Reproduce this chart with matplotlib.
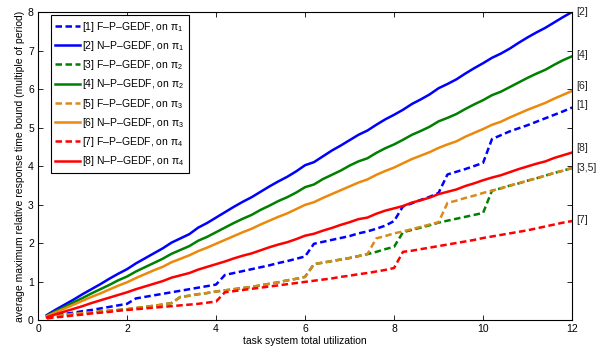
import matplotlib
matplotlib.use('Agg')
import matplotlib.pyplot as plt
import numpy as np

plt.rcParams['font.family'] = ['Liberation Sans', 'DejaVu Sans']
plt.rcParams['mathtext.fontset'] = 'custom'
plt.rcParams['mathtext.rm'] = 'Liberation Sans'
plt.rcParams['mathtext.it'] = 'Liberation Sans:italic'

# total utilization, 0.2 .. 12 step 0.2
util = np.round(np.arange(1, 61) * 0.2, 1)

# [1] F-P-GEDF on pi_1
fp1 = [0.10, 0.13, 0.16, 0.19, 0.23, 0.26, 0.30, 0.34, 0.38, 0.42,
       0.56, 0.60, 0.64, 0.68, 0.72, 0.76, 0.80, 0.84, 0.88, 0.92,
       1.17, 1.22, 1.27, 1.32, 1.37, 1.42, 1.48, 1.53, 1.59, 1.65,
       1.98, 2.03, 2.08, 2.13, 2.18, 2.25, 2.30, 2.37, 2.45, 2.57,
       2.95, 3.03, 3.12, 3.20, 3.30, 3.78, 3.85, 3.92, 4.00, 4.08,
       4.70, 4.80, 4.90, 4.98, 5.06, 5.15, 5.24, 5.33, 5.42, 5.52]
# [2] N-P-GEDF on pi_1
np1 = [0.13, 0.27, 0.40, 0.53, 0.67, 0.80, 0.93, 1.07, 1.20, 1.32,
       1.47, 1.60, 1.73, 1.86, 2.01, 2.12, 2.23, 2.40, 2.52, 2.66,
       2.80, 2.94, 3.07, 3.19, 3.33, 3.47, 3.60, 3.72, 3.86, 4.02,
       4.10, 4.25, 4.40, 4.53, 4.67, 4.81, 4.92, 5.07, 5.21, 5.33,
       5.46, 5.61, 5.73, 5.86, 6.02, 6.13, 6.25, 6.40, 6.54, 6.67,
       6.81, 6.92, 7.05, 7.20, 7.34, 7.47, 7.59, 7.73, 7.87, 8.00]
# [3] F-P-GEDF on pi_2
fp2 = [0.07, 0.10, 0.13, 0.16, 0.18, 0.20, 0.22, 0.24, 0.26, 0.28,
       0.31, 0.34, 0.37, 0.40, 0.44, 0.60, 0.63, 0.67, 0.70, 0.74,
       0.77, 0.80, 0.83, 0.86, 0.90, 0.94, 0.98, 1.03, 1.07, 1.12,
       1.45, 1.49, 1.53, 1.57, 1.61, 1.66, 1.71, 1.77, 1.84, 1.90,
       2.28, 2.34, 2.40, 2.46, 2.53, 2.58, 2.63, 2.68, 2.73, 2.78,
       3.36, 3.42, 3.49, 3.55, 3.62, 3.68, 3.75, 3.82, 3.88, 3.95]
# [4] N-P-GEDF on pi_2
np2 = [0.11, 0.23, 0.34, 0.46, 0.57, 0.69, 0.80, 0.91, 1.03, 1.13,
       1.26, 1.37, 1.48, 1.59, 1.72, 1.82, 1.92, 2.06, 2.16, 2.28,
       2.40, 2.52, 2.63, 2.73, 2.86, 2.97, 3.09, 3.19, 3.31, 3.45,
       3.52, 3.66, 3.77, 3.88, 4.01, 4.12, 4.20, 4.34, 4.46, 4.56,
       4.68, 4.81, 4.91, 5.02, 5.16, 5.25, 5.35, 5.48, 5.60, 5.71,
       5.84, 5.93, 6.05, 6.17, 6.29, 6.40, 6.50, 6.63, 6.75, 6.85]
# [5] F-P-GEDF on pi_3
fp3 = [0.07, 0.10, 0.13, 0.16, 0.18, 0.20, 0.22, 0.24, 0.26, 0.28,
       0.31, 0.34, 0.37, 0.40, 0.44, 0.60, 0.63, 0.67, 0.70, 0.74,
       0.77, 0.80, 0.83, 0.86, 0.90, 0.94, 0.98, 1.03, 1.07, 1.12,
       1.45, 1.49, 1.53, 1.57, 1.61, 1.66, 1.71, 2.12, 2.18, 2.25,
       2.30, 2.36, 2.42, 2.48, 2.54, 3.04, 3.10, 3.17, 3.23, 3.30,
       3.36, 3.42, 3.49, 3.55, 3.62, 3.68, 3.75, 3.82, 3.88, 3.95]
# [6] N-P-GEDF on pi_3
np3 = [0.10, 0.20, 0.30, 0.40, 0.50, 0.60, 0.69, 0.79, 0.89, 0.98,
       1.09, 1.19, 1.29, 1.38, 1.50, 1.59, 1.68, 1.79, 1.88, 1.98,
       2.08, 2.18, 2.28, 2.37, 2.48, 2.58, 2.68, 2.77, 2.88, 2.99,
       3.06, 3.17, 3.27, 3.37, 3.47, 3.57, 3.65, 3.77, 3.87, 3.96,
       4.07, 4.18, 4.27, 4.36, 4.47, 4.56, 4.64, 4.76, 4.86, 4.96,
       5.07, 5.15, 5.26, 5.36, 5.46, 5.55, 5.64, 5.75, 5.85, 5.95]
# [7] F-P-GEDF on pi_4
fp4 = [0.04, 0.07, 0.09, 0.12, 0.14, 0.17, 0.19, 0.21, 0.24, 0.26,
       0.28, 0.30, 0.32, 0.34, 0.36, 0.38, 0.40, 0.42, 0.45, 0.48,
       0.72, 0.75, 0.78, 0.81, 0.84, 0.87, 0.90, 0.93, 0.96, 0.99,
       1.02, 1.05, 1.08, 1.12, 1.15, 1.19, 1.22, 1.26, 1.30, 1.35,
       1.77, 1.80, 1.84, 1.88, 1.92, 1.96, 2.00, 2.04, 2.08, 2.13,
       2.17, 2.21, 2.25, 2.29, 2.33, 2.38, 2.43, 2.48, 2.53, 2.57]
# [8] N-P-GEDF on pi_4
np4 = [0.07, 0.15, 0.22, 0.29, 0.36, 0.44, 0.51, 0.58, 0.65, 0.72,
       0.80, 0.87, 0.94, 1.01, 1.10, 1.16, 1.22, 1.31, 1.38, 1.45,
       1.52, 1.60, 1.67, 1.73, 1.81, 1.89, 1.96, 2.02, 2.10, 2.19,
       2.24, 2.32, 2.39, 2.47, 2.54, 2.62, 2.66, 2.76, 2.84, 2.90,
       2.96, 3.05, 3.11, 3.18, 3.27, 3.33, 3.39, 3.48, 3.55, 3.63,
       3.70, 3.76, 3.84, 3.92, 3.99, 4.06, 4.12, 4.21, 4.28, 4.35]

series = [fp1, np1, fp2, np2, fp3, np3, fp4, np4]
labels = [r'[1] F–P–GEDF, on π$_1$', r'[2] N–P–GEDF, on π$_1$',
          r'[3] F–P–GEDF, on π$_2$', r'[4] N–P–GEDF, on π$_2$',
          r'[5] F–P–GEDF, on π$_3$', r'[6] N–P–GEDF, on π$_3$',
          r'[7] F–P–GEDF, on π$_4$', r'[8] N–P–GEDF, on π$_4$']
colors = ['#0000ff', '#0000ff', '#008000', '#008000',
          '#d98a1c', '#ec890c', '#ff0000', '#ff0000']

# end-of-line tags on the right
tags = ['[2]', '[4]', '[6]', '[1]', '[8]', '[3,5]', '[7]']
tag_y = [np1[-1], np2[-1] + 0.03, np3[-1] + 0.12, fp1[-1] + 0.06,
         np4[-1] + 0.12, fp3[-1], fp4[-1] + 0.03]

fig = plt.figure(figsize=(6.16, 3.52), dpi=100)
ax = fig.add_axes([0.0617, 0.0909, 0.867, 0.875])

for i, (y, lab, c) in enumerate(zip(series, labels, colors)):
    if i % 2 == 0:
        ax.plot(util, y, color=c, lw=1.8, dashes=(2.6, 1.4), label=lab)
    else:
        ax.plot(util, y, color=c, lw=1.8, label=lab)

for t, ty in zip(tags, tag_y):
    ax.annotate(t, xy=(12, ty), xytext=(3, 0), textcoords='offset points',
                va='center', ha='left', fontsize=7.5, color='#222222',
                annotation_clip=False)

ax.set_xlim(0, 12)
ax.set_ylim(0, 8)
ax.set_xticks(range(0, 13, 2))
ax.set_yticks(range(0, 9))
ax.tick_params(direction='in', top=True, right=True, length=3.5,
               width=0.6, labelsize=7.5, pad=3)
for s in ax.spines.values():
    s.set_linewidth(0.8)
ax.set_xlabel('task system total utilization', fontsize=7.5, labelpad=1)
ax.set_ylabel('average maximum relative response time bound (multiple of period)',
              fontsize=7.5, labelpad=2)

leg = ax.legend(loc='upper left', bbox_to_anchor=(0.02, 0.997), fontsize=7.5,
                handlelength=2.4, handletextpad=0.15, labelspacing=0.5,
                borderpad=0.45, borderaxespad=0.2, fancybox=False, framealpha=1)
leg.get_frame().set_edgecolor('black')
leg.get_frame().set_linewidth(0.8)

fig.savefig('out.png', dpi=100)
